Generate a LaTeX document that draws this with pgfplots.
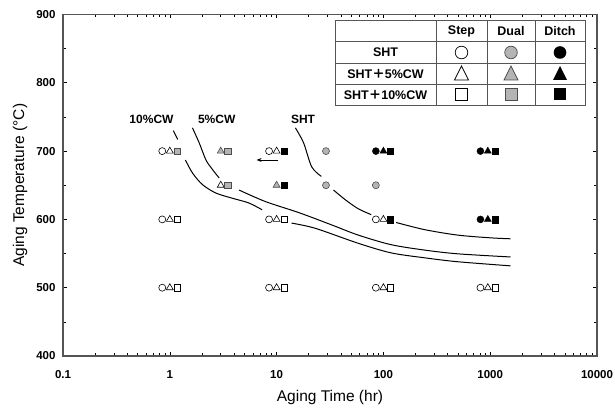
\documentclass[border=0pt]{standalone}
\usepackage{fontspec}
\setmainfont{Liberation Sans}
\newfontfamily\cjk{Noto Sans CJK JP}
\usepackage{pgfplots}
\pgfplotsset{compat=1.18}
\usetikzlibrary{arrows.meta}
\definecolor{axgray}{HTML}{555555}
\definecolor{dualgray}{HTML}{B4B4B4}

\pgfplotsset{
  step/.style={only marks, mark options={draw=black, fill=white, line width=0.6pt}},
  dual/.style={only marks, mark options={draw=black!70, fill=dualgray, line width=0.6pt}},
  ditch/.style={only marks, mark options={draw=black, fill=black}},
  crv/.style={black, line width=1pt, no marks},
}

\begin{document}
\begin{tikzpicture}[x=1pt, y=1pt]
\begin{axis}[
  at={(0pt,0pt)}, anchor=south west,
  scale only axis, width=534pt, height=341.5pt,
  xmode=log, xmin=0.1, xmax=10000, ymin=400, ymax=900,
  xtick={0.1,1,10,100,1000,10000},
  xticklabels={0.1,1,10,100,1000,10000},
  ytick={400,500,...,900},
  minor ytick={450,550,...,850},
  tick align=inside, major tick length=4pt, minor tick length=3pt,
  axis line style={axgray, line width=1.2pt},
  every tick/.style={black, line width=0.6pt},
  /pgf/number format/assume math mode=true,
  tick label style={font=\bfseries\fontsize{11.5}{13}\selectfont},
  xticklabel style={yshift=-11pt},
  yticklabel style={xshift=-4pt},
  xlabel={Aging Time (hr)},
  ylabel={Aging Temperature (°C)},
  label style={font=\fontsize{15.5}{17}\selectfont},
  xlabel style={yshift=-5pt},
  ylabel style={yshift=2pt},
  clip=false,
]
% Step (open)
\addplot[step, mark=*, mark size=3.5pt] coordinates {
  (0.85,700) (0.85,600) (0.85,500) (8.5,700) (8.5,600) (8.5,500)
  (85,600) (85,500) (810,500)};
\addplot[step, mark=triangle*, mark size=4pt] coordinates {
  (1,700) (1,600) (1,500) (3,650) (10,700) (10,600) (10,500)
  (100,600) (100,500) (950,500)};
\addplot[step, mark=square*, mark size=3.3pt] coordinates {
  (1.18,600) (1.18,500) (11.8,600) (11.8,500) (116,500) (1115,500)};
% Dual (gray)
\addplot[dual, mark=*, mark size=3.5pt] coordinates {
  (29,700) (29,650) (85,650)};
\addplot[dual, mark=triangle*, mark size=4pt] coordinates {
  (3,700) (10,650)};
\addplot[dual, mark=square*, mark size=3.3pt] coordinates {
  (1.18,700) (3.5,700) (3.5,650)};
% Ditch (black)
\addplot[ditch, mark=*, mark size=3.5pt] coordinates {
  (85,700) (810,700) (810,600)};
\addplot[ditch, mark=triangle*, mark size=4pt] coordinates {
  (100,700) (950,700) (950,600)};
\addplot[ditch, mark=square*, mark size=3.3pt] coordinates {
  (11.8,700) (11.8,650) (116,700) (116,600) (1115,700) (1115,600)};

% SHT curve
\addplot[crv, smooth] coordinates {(15.0,734) (17.9,712) (21.3,677) (26.2,663)};
\addplot[crv, smooth] coordinates {(34.1,643) (43.8,629) (58.2,615.5) (76.9,607)};
\addplot[crv, smooth] coordinates {(131.5,595.5) (243,585) (497,577) (1009,573) (1549,571.6)};
% 5%CW curve
\addplot[crv, smooth] coordinates {(1.63,734) (1.886,712) (2.18,687) (2.51,673) (2.90,660.6)};
\addplot[crv, smooth] coordinates {(4.45,643) (7.89,626) (16.1,610) (32.7,592) (58.2,577)
  (118,563) (245,555) (497,549.6) (1549,545)};
% 10%CW curve
\addplot[crv] coordinates {(1.08,730) (1.185,717)};
\addplot[crv, smooth] coordinates {(1.40,687) (1.63,668) (2.02,651) (2.70,638.6) (3.85,631)
  (5.51,624) (7.33,614)};
\addplot[crv, smooth] coordinates {(13.8,594.6) (23.0,587) (58.2,565) (118,551) (245,543.7)
  (497,538) (1549,532)};

\draw[-{Stealth[length=5pt,width=4pt]}, line width=0.8pt] (axis cs:10.4,687) -- (axis cs:6.5,687);
\end{axis}

% curve labels
\begin{scope}[every node/.style={font=\bfseries\fontsize{12}{14}\selectfont, inner sep=0pt}]
\node at (88.5,237) {10\%CW};
\node at (153.7,237) {5\%CW};
\node at (240,237) {SHT};
\end{scope}

% legend table
\fill[white] (272,251) rectangle (522,335.3);
\draw[axgray, line width=0.8pt] (272,251) rectangle (522,335.3);
\draw[axgray, line width=0.8pt]
  (272,314.3) -- (522,314.3) (272,292.7) -- (522,292.7) (272,272) -- (522,272)
  (373,251) -- (373,335.3) (424,251) -- (424,335.3) (472,251) -- (472,335.3);
\begin{scope}[every node/.style={font=\bfseries\fontsize{12.5}{14}\selectfont, inner sep=0pt}]
\node at (398.5,324.8) {Step};
\node at (448,324.8) {Dual};
\node at (497,324.8) {Ditch};
\node at (322.5,303.5) {SHT};
\node at (322.5,282.4) {SHT{\cjk ＋}5\%CW};
\node at (322.5,261.5) {SHT{\cjk ＋}10\%CW};
\end{scope}
\begin{scope}[line width=0.7pt]
\draw[fill=white] (398.5,303.5) circle (6.3pt);
\draw[black!70, fill=dualgray] (448,303.5) circle (6.3pt);
\fill[black] (497,303.5) circle (6.3pt);
\draw[fill=white] (398.5,290) -- (391.5,276) -- (405.5,276) -- cycle;
\draw[black!70, fill=dualgray] (448,290) -- (441,276) -- (455,276) -- cycle;
\fill[black] (497,290) -- (490,276) -- (504,276) -- cycle;
\draw[fill=white] (392.5,255.5) rectangle (404.5,267.5);
\draw[black!70, fill=dualgray] (442,255.5) rectangle (454,267.5);
\fill[black] (491,255.5) rectangle (503,267.5);
\end{scope}

\pgfresetboundingbox
\useasboundingbox (-63pt,-51pt) rectangle (552pt,356pt);
\end{tikzpicture}
\end{document}
